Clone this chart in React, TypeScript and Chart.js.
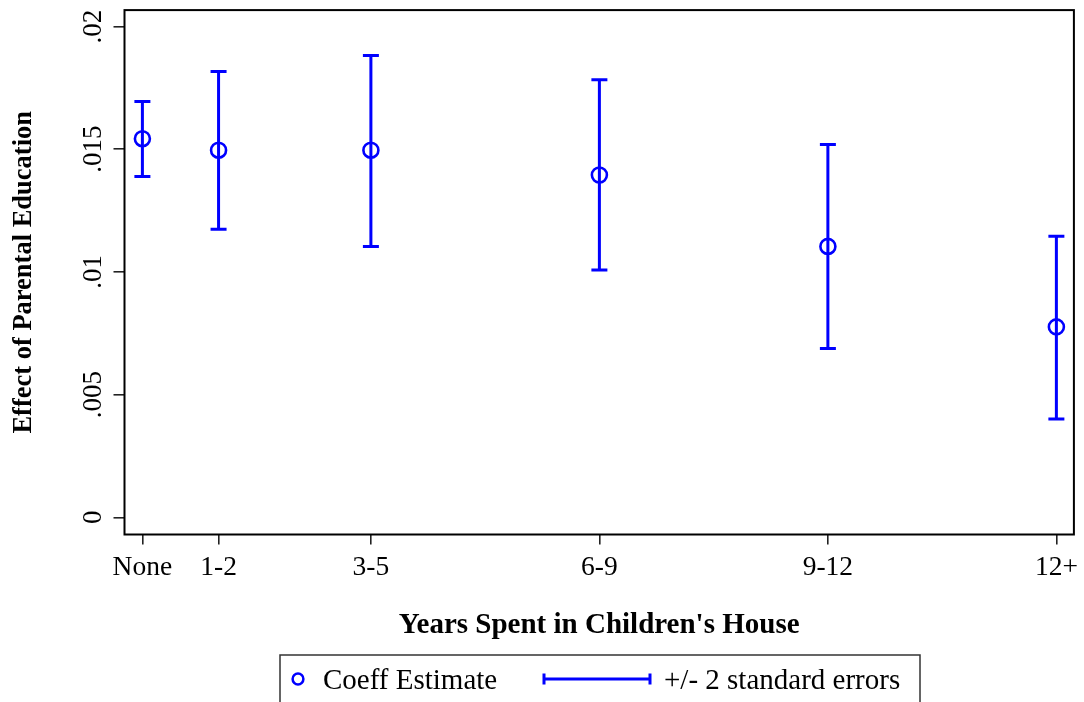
import React, { useEffect, useRef } from 'react';
import { Chart, registerables } from 'chart.js';

Chart.register(...registerables);

// ---- data ----
const categories = ['None', '1-2', '3-5', '6-9', '9-12', '12+'];
const yearsX = [0, 1, 3, 6, 9, 12];
const coeffEstimate = [0.01543, 0.01496, 0.01496, 0.01395, 0.01104, 0.00776];
const upperBound = [0.01695, 0.01817, 0.01882, 0.01783, 0.01519, 0.01145];
const lowerBound = [0.01389, 0.01174, 0.01104, 0.01008, 0.00688, 0.00401];
const yTickValues = [0, 0.005, 0.01, 0.015, 0.02];
const yTickLabels = ['0', '.005', '.01', '.015', '.02'];

const BLUE = '#0000FF';
const SERIF = '"Liberation Serif", "Times New Roman", serif';

const errorBarPlugin = {
  id: 'errorBars',
  beforeDatasetsDraw(chart: any) {
    const { ctx, scales } = chart;
    const x = scales.x;
    const y = scales.y;
    ctx.save();
    ctx.strokeStyle = BLUE;
    ctx.lineWidth = 3;
    ctx.lineCap = 'butt';
    for (let i = 0; i < yearsX.length; i++) {
      const px = x.getPixelForValue(yearsX[i]);
      const pTop = y.getPixelForValue(upperBound[i]);
      const pBot = y.getPixelForValue(lowerBound[i]);
      ctx.beginPath();
      ctx.moveTo(px, pTop);
      ctx.lineTo(px, pBot);
      ctx.moveTo(px - 8, pTop);
      ctx.lineTo(px + 8, pTop);
      ctx.moveTo(px - 8, pBot);
      ctx.lineTo(px + 8, pBot);
      ctx.stroke();
    }
    ctx.restore();
  },
  afterDraw(chart: any) {
    const { ctx, chartArea, scales } = chart;
    const y = scales.y;
    ctx.save();
    // plot frame
    ctx.strokeStyle = '#000';
    ctx.lineWidth = 2;
    ctx.strokeRect(chartArea.left, chartArea.top, chartArea.right - chartArea.left, chartArea.bottom - chartArea.top);

    // rotated y tick labels
    ctx.fillStyle = '#000';
    ctx.font = `27px ${SERIF}`;
    ctx.textAlign = 'center';
    ctx.textBaseline = 'alphabetic';
    for (let i = 0; i < yTickValues.length; i++) {
      const py = y.getPixelForValue(yTickValues[i]);
      ctx.save();
      ctx.translate(101, py);
      ctx.rotate(-Math.PI / 2);
      ctx.fillText(yTickLabels[i], 0, 0);
      ctx.restore();
    }

    // legend
    const boxL = 280, boxT = 655, boxR = 920, boxB = 715;
    ctx.strokeStyle = '#333';
    ctx.lineWidth = 1.5;
    ctx.strokeRect(boxL, boxT, boxR - boxL, boxB - boxT);
    const ly = 679;
    ctx.strokeStyle = BLUE;
    ctx.lineWidth = 2.5;
    ctx.beginPath();
    ctx.arc(298, ly, 5.4, 0, Math.PI * 2);
    ctx.stroke();
    ctx.lineWidth = 3;
    ctx.beginPath();
    ctx.moveTo(543, ly);
    ctx.lineTo(651, ly);
    ctx.moveTo(544, ly - 5.5);
    ctx.lineTo(544, ly + 5.5);
    ctx.moveTo(650, ly - 5.5);
    ctx.lineTo(650, ly + 5.5);
    ctx.stroke();
    ctx.fillStyle = '#000';
    ctx.font = `29px ${SERIF}`;
    ctx.textAlign = 'left';
    ctx.textBaseline = 'alphabetic';
    ctx.fillText('Coeff Estimate', 323, 689);
    ctx.fillText('+/- 2 standard errors', 664, 689);
    ctx.restore();
  },
};

export default function App() {
  const canvasRef = useRef<HTMLCanvasElement | null>(null);

  useEffect(() => {
    if (!canvasRef.current) return;
    const chart = new Chart(canvasRef.current, {
      type: 'scatter',
      data: {
        datasets: [
          {
            label: 'Coeff Estimate',
            data: yearsX.map((x, i) => ({ x, y: coeffEstimate[i] })),
            pointStyle: 'circle',
            pointRadius: 7.5,
            pointBorderWidth: 2.6,
            borderColor: BLUE,
            pointBorderColor: BLUE,
            backgroundColor: 'rgba(0,0,0,0)',
            pointBackgroundColor: 'rgba(0,0,0,0)',
            showLine: false,
          },
        ],
      },
      options: {
        animation: false,
        responsive: true,
        maintainAspectRatio: false,
        events: [],
        layout: { padding: { top: 7.5, right: 9, bottom: 59.4, left: 0 } },
        plugins: {
          legend: { display: false },
          tooltip: { enabled: false },
        },
        scales: {
          x: {
            type: 'linear',
            min: -0.235,
            max: 12.23,
            afterBuildTicks: (s: any) => {
              s.ticks = yearsX.map((v) => ({ value: v }));
            },
            afterFit: (s: any) => {
              s.height = 108.1;
              s.paddingLeft = 0;
              s.paddingRight = 0;
            },
            ticks: {
              autoSkip: false,
              maxRotation: 0,
              minRotation: 0,
              padding: 7,
              color: '#000',
              font: { family: SERIF, size: 27.5 },
              callback: (value: any) => {
                const idx = yearsX.indexOf(Number(value));
                return idx >= 0 ? categories[idx] : '';
              },
            },
            grid: {
              drawOnChartArea: false,
              drawTicks: true,
              tickLength: 10,
              color: '#222',
              lineWidth: 1.6,
            },
            border: { display: false },
            title: {
              display: true,
              text: "Years Spent in Children's House",
              color: '#000',
              font: { family: SERIF, size: 29, weight: 'bold' },
              padding: { top: 0, bottom: 0 },
            },
          },
          y: {
            type: 'linear',
            min: -0.0007,
            max: 0.02067,
            afterBuildTicks: (s: any) => {
              s.ticks = yTickValues.map((v) => ({ value: v }));
            },
            afterFit: (s: any) => {
              s.width = 124.5;
              s.paddingTop = 0;
              s.paddingBottom = 0;
            },
            ticks: { display: false },
            grid: {
              drawOnChartArea: false,
              drawTicks: true,
              tickLength: 11,
              color: '#222',
              lineWidth: 1.6,
            },
            border: { display: false },
            title: {
              display: true,
              text: 'Effect of Parental Education',
              color: '#000',
              font: { family: SERIF, size: 26.5, weight: 'bold' },
              padding: { top: 7.9, bottom: 0 },
            },
          },
        },
      },
      plugins: [errorBarPlugin],
    } as any);
    return () => chart.destroy();
  }, []);

  return (
    <div style={{ position: 'fixed', left: 0, top: 0, width: 1084, height: 702, background: '#fff' }}>
      <canvas ref={canvasRef} />
    </div>
  );
}
